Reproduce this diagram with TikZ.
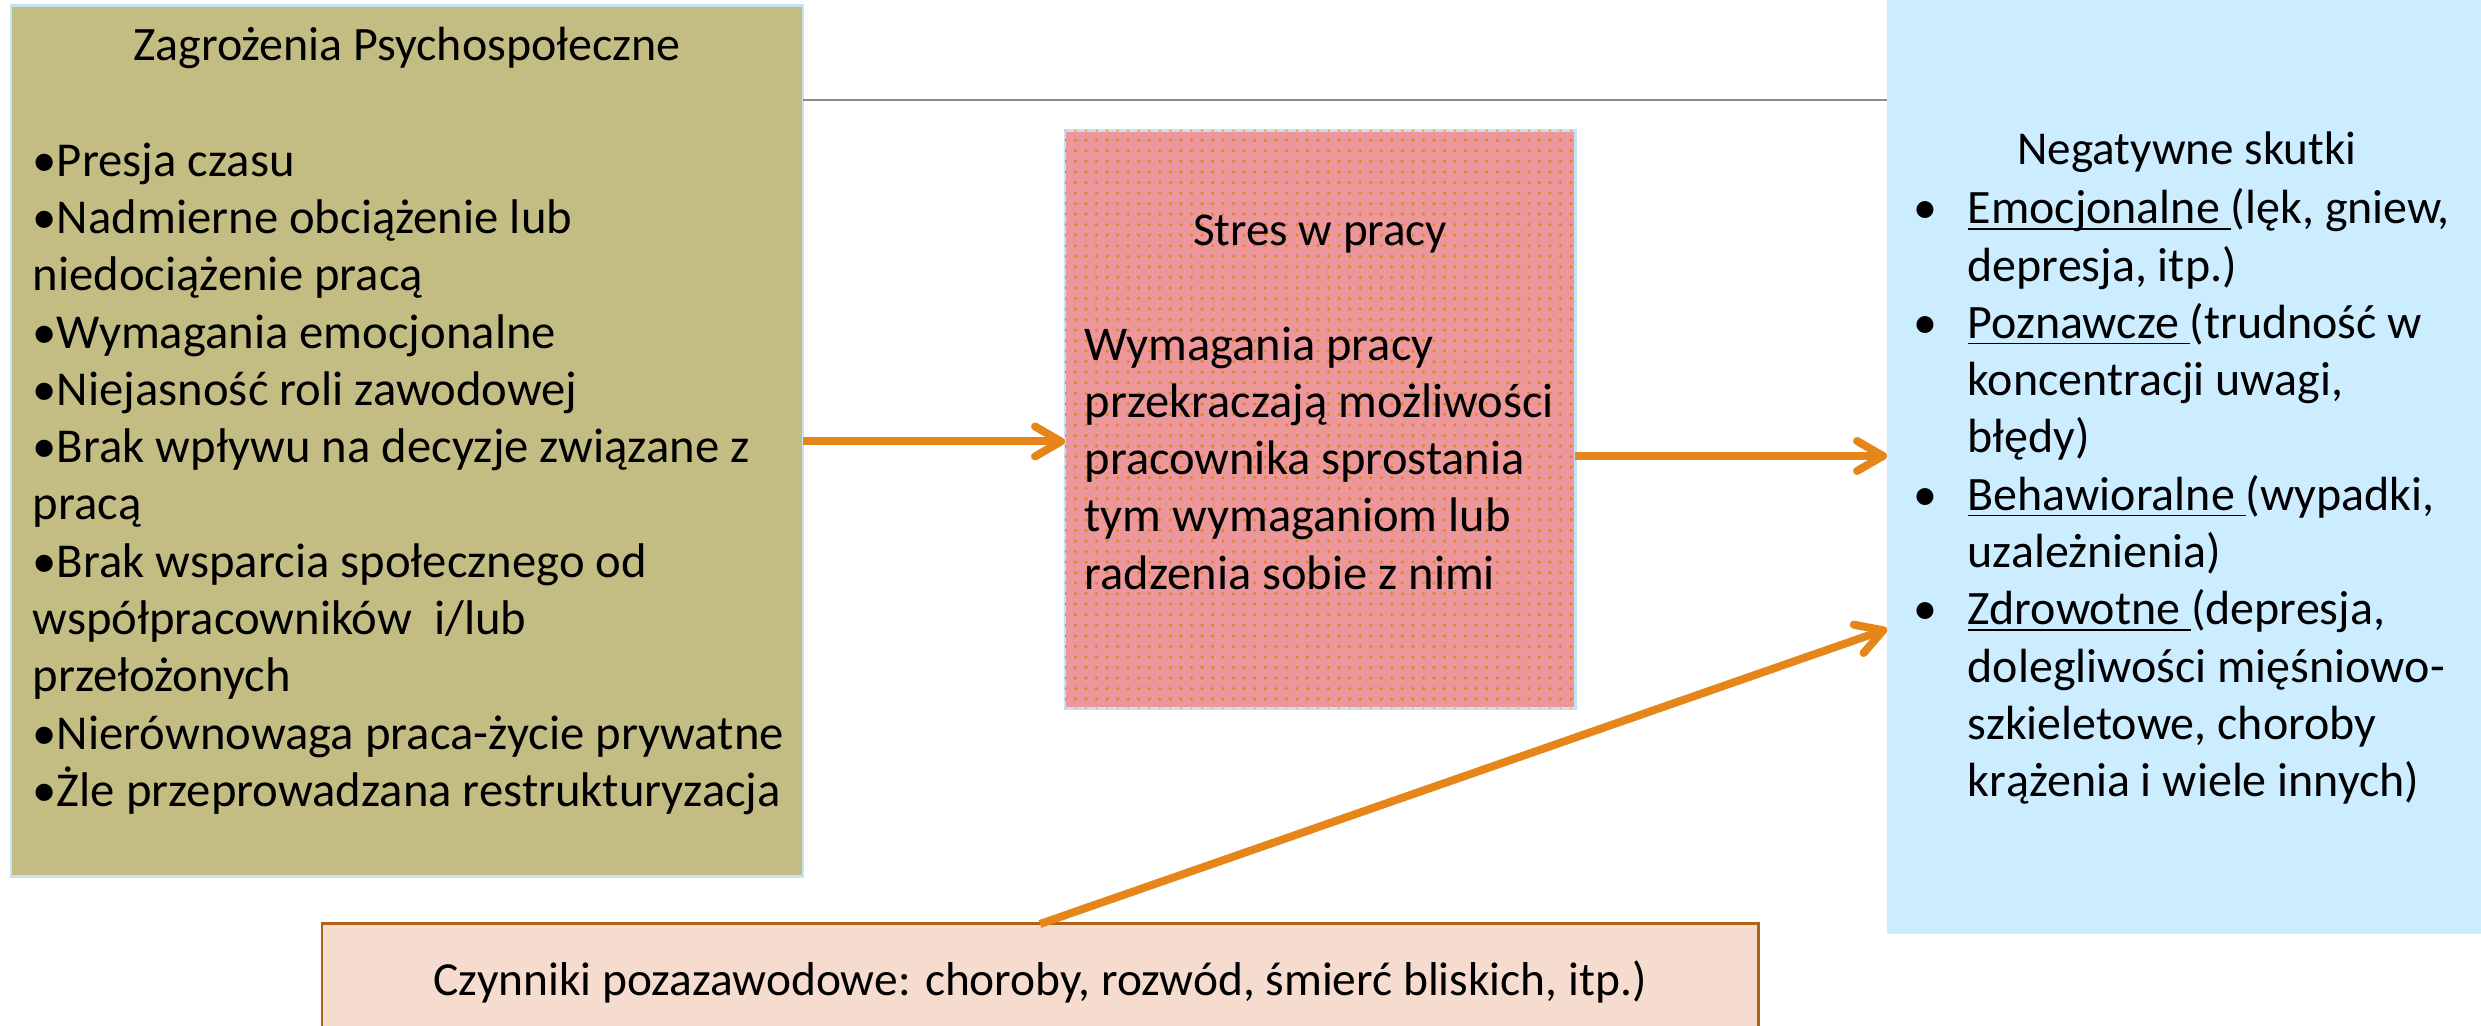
\documentclass[tikz,border=0pt]{standalone}
\usepackage{fontspec}
\setmainfont{Carlito}
\usetikzlibrary{arrows.meta,positioning,patterns}
\definecolor{khaki}{HTML}{C4BD83}
\definecolor{rosepink}{HTML}{EC979C}
\definecolor{skyblue}{HTML}{CCECFF}
\definecolor{peach}{HTML}{F6DCCF}
\definecolor{rimblue}{HTML}{C5E4F3}
\definecolor{rimbrown}{HTML}{AE6418}
\definecolor{flowor}{HTML}{E6861A}
\definecolor{rulegray}{HTML}{8C8C8C}
\newsavebox\undlbox
\newcommand{\undl}[1]{\sbox\undlbox{#1}\rlap{\rule[-1.7pt]{\wd\undlbox}{0.45pt}}\usebox\undlbox}
\newcommand{\effbul}{\makebox[0.54cm][l]{•}}
\newcommand{\effind}{\hspace*{0.54cm}}

\begin{document}
\begin{tikzpicture}[
  box/.style={inner sep=0pt, outer sep=0pt},
  txt/.style={font=\fontsize{#1}{16.3}\selectfont, align=left, inner sep=0pt},
  txt/.default=13.4,
  flow/.style={-{Straight Barb[length=2.6mm,width=3.0mm,line cap=round,line join=round]},
    line width=0.08cm, draw=flowor},
  rule/.style={draw=rulegray, line width=0.4pt}
]
\useasboundingbox (0,0) rectangle (24.81,-10.26);

% boxes
\node[box, fill=khaki, draw=rimblue, line width=0.85pt,
  minimum width=7.92cm, minimum height=8.71cm] (threat) at (4.07,-4.415) {};
\node[box, fill=rosepink, draw=rimblue, line width=0.85pt,
  postaction={pattern=dots, pattern color=flowor},
  minimum width=5.10cm, minimum height=5.78cm] (stres) at (13.20,-4.20) {};
\node[box, fill=skyblue, minimum width=6.0cm, minimum height=9.34cm] (eff) at (21.87,-4.67) {};
\node[box, fill=peach, draw=rimbrown, line width=0.85pt,
  minimum width=14.36cm, minimum height=1.16cm] (ext) at (10.40,-9.82) {};

% texts
\node[txt=13.65, below=0.21cm of threat.north] (threattitle) {Zagrożenia Psychospołeczne};
\node[txt=13.85, below right=1.36cm and 0.21cm of threat.north west] (threatlist) {%
•Presja czasu\\
•Nadmierne obciążenie lub\\
niedociążenie pracą\\
•Wymagania emocjonalne\\
•Niejasność roli zawodowej\\
•Brak wpływu na decyzje związane z\\
pracą\\
•Brak wsparcia społecznego od\\
współpracowników \ i/lub\\
przełożonych\\
•Nierównowaga praca-życie prywatne\\
•Żle przeprowadzana restrukturyzacja};

\node[txt, below=0.83cm of stres.north] (strestitle) {Stres w pracy};
\node[txt=13.8, below right=1.95cm and 0.19cm of stres.north west] (stresbody) {%
Wymagania pracy\\
przekraczają możliwości\\
pracownika sprostania\\
tym wymaganiom lub\\
radzenia sobie z nimi};

\node[txt, below=1.31cm of eff.north] (efftitle) {Negatywne skutki};
\node[txt=13.65, below right=1.88cm and 0.26cm of eff.north west] (efflist) {%
\effbul\undl{Emocjonalne }(lęk, gniew,\\
\effind depresja, itp.)\\
\effbul\undl{Poznawcze }(trudność w\\
\effind koncentracji uwagi,\\
\effind błędy)\\
\effbul\undl{Behawioralne }(wypadki,\\
\effind uzależnienia)\\
\effbul\undl{Zdrowotne }(depresja,\\
\effind dolegliwości mięśniowo-\\
\effind szkieletowe, choroby\\
\effind krążenia i wiele innych)};

\node[txt=13.5] (exttxt) at (ext) {Czynniki pozazawodowe: choroby, rozwód, śmierć bliskich, itp.)};

% connectors
\draw[rule] ([yshift=-1cm]eff.north west) -- ([yshift=-1cm]eff.north west -| threat.east);
\draw[flow] (threat.east) -- (threat.east -| stres.west);
\draw[flow] ([yshift=-0.36cm]stres.east) -- ([yshift=-0.36cm]stres.east -| eff.west);
\draw[flow] (ext.north) -- ([yshift=-1.62cm]eff.west);
\end{tikzpicture}
\end{document}
